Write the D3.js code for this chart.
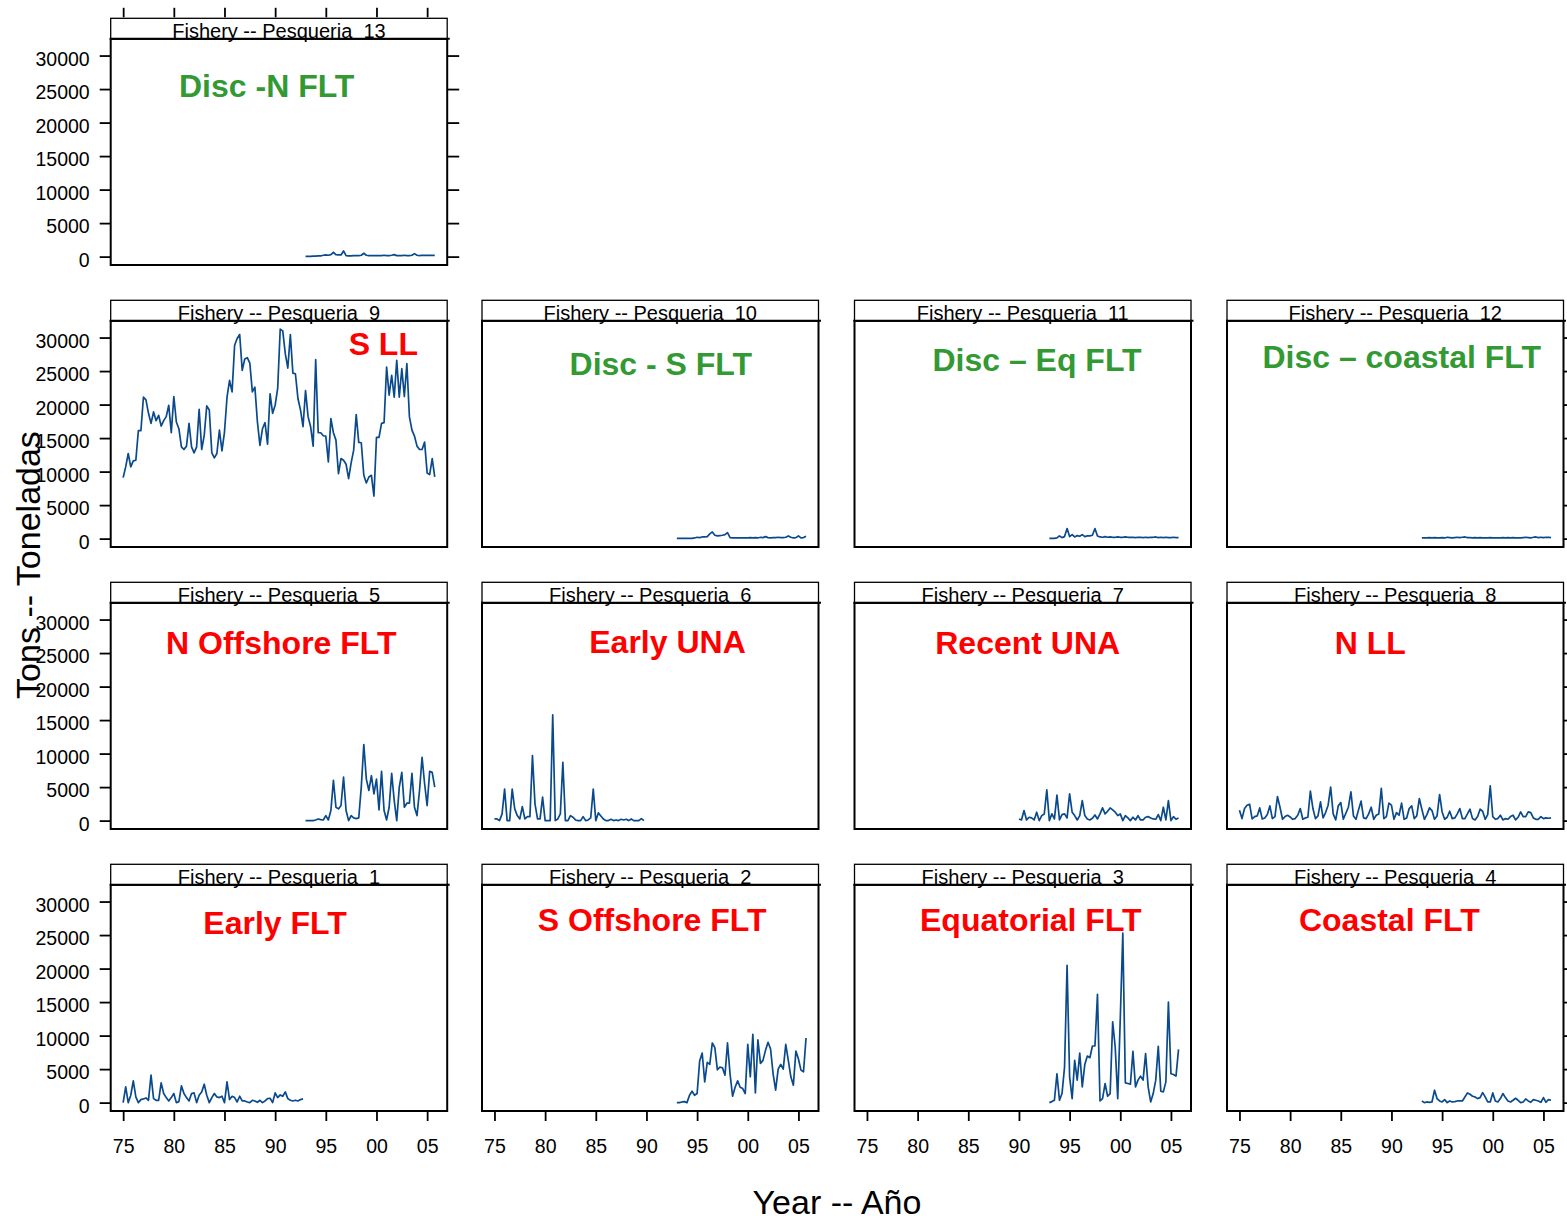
<!DOCTYPE html>
<html>
<head>
<meta charset="utf-8">
<script src="https://cdn.jsdelivr.net/npm/d3@7"></script>
<style>
  body { margin: 0; background: #fff; }
  text { font-family: "Liberation Sans", Arial, sans-serif; }
</style>
</head>
<body>
<script>
const width = 1567;
const height = 1220;

// tick values / labels
const yearTicks = [1975, 1980, 1985, 1990, 1995, 2000, 2005];
const yearLabels = ['75', '80', '85', '90', '95', '00', '05'];
const catchTicks = [0, 5000, 10000, 15000, 20000, 25000, 30000];

// fisheries
const fisheryIds = [1, 2, 3, 4, 5, 6, 7, 8, 9, 10, 11, 12, 13];
const fisheryNames = ['Early FLT', 'S Offshore FLT', 'Equatorial FLT', 'Coastal FLT',
  'N Offshore FLT', 'Early UNA', 'Recent UNA', 'N LL', 'S LL',
  'Disc - S FLT', 'Disc \u2013 Eq FLT', 'Disc \u2013 coastal FLT', 'Disc -N FLT'];
const nameGroups = ['ret', 'ret', 'ret', 'ret', 'ret', 'ret', 'ret', 'ret', 'ret',
  'disc', 'disc', 'disc', 'disc'];
const firstYears = [1975, 1993, 1993, 1993, 1993, 1975, 1990, 1975, 1975, 1993, 1993, 1993, 1993];

// quarterly catches (t)
const catchF1 = [0, 2350, 0, 1100, 3250, 850, 0, 450, 550, 700, 350, 4100, 600, 350, 350, 2950, 1350, 750, 250, 750,
  1350, 0, 150, 2500, 1350, 750, 250, 1350, 1450, 0, 1100, 1600, 2750, 1100, 0, 750, 1350, 850, 750, 950,
  0, 3100, 450, 950, 750, 100, 950, 250, 250, 100, 0, 350, 250, 50, 350, 0, 250, 600, 650, 0,
  1450, 750, 1150, 950, 1600, 600, 350, 250, 350, 250, 450, 550];
const catchF2 = [0, 0, 100, 150, 0, 1100, 1700, 1100, 1350, 6200, 7400, 3100, 6000, 5700, 8900, 8200, 4900, 5300, 5200, 4100,
  8900, 4300, 950, 2300, 3250, 2300, 2100, 1350, 8700, 3850, 10200, 1450, 9350, 5850, 6300, 7800, 9000, 8000, 4300, 1850,
  5000, 5700, 5000, 8700, 6300, 3850, 2600, 7700, 6500, 4850, 4600, 9650];
const catchF3 = [0, 150, 350, 4300, 350, 1350, 5300, 20500, 3850, 600, 6300, 3350, 7400, 2350, 5700, 6950, 6700, 8450, 8450, 16150,
  250, 600, 2850, 950, 1350, 12050, 8300, 600, 12500, 25300, 2950, 2850, 2750, 7650, 2350, 3350, 3950, 3350, 7300, 2350,
  100, 1350, 3350, 8400, 1700, 1600, 3100, 15000, 4300, 4200, 3950, 7950];
const catchF4 = [250, 0, 100, 50, 100, 1850, 600, 250, 100, 450, 0, 250, 100, 150, 250, 250, 250, 850, 1450, 1250,
  950, 850, 600, 750, 1500, 850, 100, 100, 1450, 250, 100, 600, 1350, 750, 250, 100, 350, 650, 350, 0,
  100, 550, 250, 50, 450, 350, 250, 50, 750, 50, 450, 350];
const catchF5 = [0, 0, 0, 0, 100, 250, 150, 100, 750, 100, 1500, 6000, 2000, 1750, 2250, 6500, 1500, 0, 750, 400,
  300, 400, 5000, 11350, 6200, 4500, 6700, 4000, 6200, 1600, 7350, 1500, 100, 2000, 7050, 3000, 0, 5000, 7200, 2000,
  2600, 2600, 7050, 2000, 750, 4500, 9450, 5500, 2250, 7350, 7200, 5000];
const catchF6 = [250, 250, 0, 1000, 4700, 0, 0, 4700, 1750, 750, 250, 2100, 250, 600, 600, 9700, 2500, 250, 250, 3500,
  0, 0, 0, 15800, 0, 250, 1000, 8700, 0, 0, 750, 500, 100, 0, 0, 600, 0, 100, 400, 4700,
  0, 1150, 700, 250, 0, 0, 200, 0, 100, 0, 200, 100, 200, 0, 250, 0, 0, 0, 300, 0];
const catchF7 = [250, 100, 1500, 100, 500, 400, 100, 1250, 0, 750, 1000, 4600, 0, 1000, 250, 3800, 100, 900, 1000, 400,
  4000, 1250, 750, 100, 750, 3000, 750, 250, 100, 350, 850, 250, 1000, 1900, 1000, 1400, 1900, 1600, 1250, 750,
  1000, 0, 750, 400, 0, 500, 100, 750, 100, 100, 500, 600, 400, 250, 200, 900, 0, 2000, 100, 3000,
  0, 600, 200, 400];
const catchF8 = [1550, 300, 1800, 2300, 2450, 250, 600, 700, 1900, 250, 400, 900, 2200, 300, 600, 3600, 2000, 200, 600, 800,
  550, 200, 300, 800, 1800, 200, 400, 500, 4400, 1800, 300, 700, 2800, 400, 1200, 2300, 5000, 1000, 100, 2200,
  2700, 200, 1100, 2000, 4300, 700, 200, 1600, 2900, 400, 300, 1000, 2000, 200, 800, 1000, 4800, 300, 600, 2600,
  2300, 200, 1200, 800, 2600, 200, 400, 1800, 2200, 300, 700, 3300, 1700, 200, 900, 1900, 1500, 200, 700, 3900,
  1300, 200, 500, 1400, 300, 400, 1000, 1800, 300, 300, 1000, 1700, 300, 100, 600, 1700, 1400, 200, 900, 5200,
  600, 200, 300, 800, 100, 300, 200, 600, 800, 100, 500, 1300, 600, 600, 1300, 1200, 400, 200, 200, 600,
  300, 400, 350, 400];
const catchF9 = [9100, 10700, 12700, 10700, 11600, 11700, 16100, 16100, 21100, 20700, 18700, 17200, 18900, 17600, 18400, 16800, 17600, 18200, 19900, 15800,
  21200, 17400, 16400, 13700, 13300, 13800, 17200, 13700, 12800, 13700, 19300, 13300, 15400, 19800, 19200, 12800, 12050, 12700, 16200, 13100,
  15900, 21100, 23600, 21900, 28850, 29850, 30450, 25100, 26800, 27000, 26200, 21900, 22600, 17400, 13900, 16400, 17300, 14100, 21600, 18700,
  19900, 22400, 31250, 31000, 27600, 25450, 30450, 24700, 24600, 20900, 19200, 16700, 22100, 18200, 16700, 13800, 26700, 15800, 15800, 15350,
  15300, 11450, 17900, 15800, 14700, 9700, 11950, 11700, 11100, 8950, 11300, 13200, 18500, 14350, 14300, 9450, 8300, 9200, 9450, 6350,
  15100, 15100, 17200, 17300, 25600, 21400, 24350, 21100, 26600, 21100, 25350, 21200, 26100, 18200, 16200, 15300, 13800, 13300, 13300, 14400,
  9800, 9550, 11950, 9200];
const catchF10 = [50, 50, 50, 50, 50, 50, 50, 100, 200, 150, 250, 250, 300, 700, 1000, 500, 400, 450, 500, 600,
  900, 150, 100, 100, 100, 100, 100, 100, 100, 150, 100, 150, 100, 200, 150, 300, 150, 100, 150, 150,
  200, 150, 150, 200, 400, 200, 100, 150, 400, 100, 150, 350];
const catchF11 = [50, 50, 50, 100, 400, 150, 300, 1500, 300, 600, 250, 450, 350, 600, 300, 400, 400, 500, 1500, 400,
  250, 200, 300, 200, 250, 200, 200, 250, 200, 200, 250, 200, 200, 200, 150, 200, 200, 150, 200, 150,
  200, 200, 250, 150, 200, 150, 200, 150, 150, 200, 150, 150];
const catchF12 = [100, 100, 100, 150, 100, 150, 100, 100, 150, 100, 200, 150, 100, 150, 200, 150, 200, 250, 150, 150,
  100, 150, 100, 150, 100, 100, 100, 150, 100, 100, 100, 100, 150, 100, 150, 100, 150, 100, 100, 100,
  150, 200, 150, 100, 200, 250, 150, 200, 150, 200, 200, 150];
const catchF13 = [50, 50, 50, 80, 80, 100, 100, 200, 250, 200, 300, 650, 300, 250, 250, 850, 150, 100, 100, 150,
  150, 150, 200, 500, 200, 150, 150, 150, 150, 150, 150, 200, 150, 150, 200, 300, 150, 150, 150, 200,
  150, 150, 200, 450, 200, 150, 200, 200, 200, 200, 200, 200];
const catches = [catchF1, catchF2, catchF3, catchF4, catchF5, catchF6, catchF7,
  catchF8, catchF9, catchF10, catchF11, catchF12, catchF13];

// page layout
const grid = [[13], [9, 10, 11, 12], [5, 6, 7, 8], [1, 2, 3, 4]];
const colLeft = [110.7, 482, 854.5, 1227];
const rowTop = [18.3, 300.3, 582.3, 864.3];
const panelW = 336.5;
const stripH = 20.5;
const plotH = 226.2;
const lineColor = '#0a4a8c';
const nameColor = { ret: '#ff0000', disc: '#339933' };
// where the big fishery name sits in each panel (centre x, baseline from strip top)
const namePos = {
  1: [164.3, 69.7], 2: [170.2, 66.7], 3: [176.3, 66.7], 4: [162.3, 66.7],
  5: [170.6, 71.7], 6: [185.5, 71], 7: [173.2, 71.7], 8: [143.2, 71.7],
  9: [272.6, 54.7], 10: [178.8, 74.2], 11: [182.5, 70.7], 12: [174.7, 68], 13: [156, 78.4]
};

const x = d3.scaleLinear()
  .domain([1975 - 0.04 * 30.75, 2005.75 + 0.04 * 30.75])
  .range([0, panelW]);

const y = d3.scaleLinear()
  .domain([-1250, 32500])
  .range([plotH, 0]);

const line = d3.line()
  .x(d => x(d.t))
  .y(d => y(d.v));

const svg = d3.select('body')
  .append('svg')
    .attr('width', width)
    .attr('height', height)
    .attr('viewBox', [0, 0, width, height].join(' '));

svg.append('rect')
  .attr('width', width)
  .attr('height', height)
  .attr('fill', '#fff');

const styleAxis = (g) => {
  g.select('.domain').remove();
  g.selectAll('.tick line').attr('stroke', '#000').attr('stroke-width', 1.8);
  g.selectAll('.tick text')
    .attr('fill', '#000')
    .style('font-size', '19.5px')
    .style('font-family', '"Liberation Sans", Arial, sans-serif');
};

grid.forEach((row, r) => {
  row.forEach((id, c) => {
    const k = fisheryIds.indexOf(id);
    const left = colLeft[c];
    const top = rowTop[r];

    const panel = svg.append('g')
      .attr('transform', `translate(${left}, ${top + stripH})`);

    // left axis with labels on first column
    if (c === 0) {
      panel.append('g')
        .call(d3.axisLeft(y).tickValues(catchTicks).tickSize(11).tickPadding(10)
          .tickFormat(d3.format('d')))
        .call(styleAxis)
        .call(g => g.selectAll('.tick text').attr('dy', '0.5em'));
    }

    // right ticks on last panel of the row
    if (c === row.length - 1) {
      panel.append('g')
        .attr('transform', `translate(${panelW}, 0)`)
        .call(d3.axisRight(y).tickValues(catchTicks).tickSize(12).tickFormat(''))
        .call(styleAxis);
    }

    // bottom axis for the last row
    if (r === grid.length - 1) {
      panel.append('g')
        .attr('transform', `translate(0, ${plotH + 1})`)
        .call(d3.axisBottom(x).tickValues(yearTicks).tickSize(9).tickPadding(18)
          .tickFormat((d, i) => yearLabels[i]))
        .call(styleAxis);
    }

    // top ticks for the first row
    if (r === 0) {
      svg.append('g')
        .attr('transform', `translate(${left}, ${top - 1})`)
        .call(d3.axisTop(x).tickValues(yearTicks).tickSize(9.5).tickFormat(''))
        .call(styleAxis);
    }

    // data line
    const pts = catches[k].map((v, i) => ({ t: firstYears[k] + i / 4, v: v }));
    panel.append('path')
      .datum(pts)
      .attr('fill', 'none')
      .attr('stroke', lineColor)
      .attr('stroke-width', 1.7)
      .attr('stroke-linejoin', 'round')
      .attr('d', line);

    // panel border
    panel.append('rect')
      .attr('width', panelW)
      .attr('height', plotH)
      .attr('fill', 'none')
      .attr('stroke', '#000')
      .attr('stroke-width', 2);

    // strip
    svg.append('rect')
      .attr('x', left)
      .attr('y', top)
      .attr('width', panelW)
      .attr('height', stripH)
      .attr('fill', '#fff')
      .attr('stroke', '#000')
      .attr('stroke-width', 1.3);

    svg.append('text')
      .attr('x', left + panelW / 2)
      .attr('y', top + stripH - 1)
      .attr('text-anchor', 'middle')
      .style('font-size', '20px')
      .style('white-space', 'pre')
      .text(`Fishery -- Pesqueria  ${id}`);

    svg.append('line')
      .attr('x1', left - 1)
      .attr('x2', left + panelW + 2.5)
      .attr('y1', top + stripH)
      .attr('y2', top + stripH)
      .attr('stroke', '#000')
      .attr('stroke-width', 2);

    // fishery name
    svg.append('text')
      .attr('x', left + namePos[id][0])
      .attr('y', top + namePos[id][1])
      .attr('text-anchor', 'middle')
      .attr('fill', nameColor[nameGroups[k]])
      .style('font-size', '32px')
      .style('font-weight', 'bold')
      .text(fisheryNames[k]);
  });
});

// axis titles
svg.append('text')
  .attr('transform', 'translate(40, 565) rotate(-90)')
  .attr('text-anchor', 'middle')
  .style('font-size', '34px')
  .text('Tons -- Toneladas');

svg.append('text')
  .attr('x', 837)
  .attr('y', 1214)
  .attr('text-anchor', 'middle')
  .style('font-size', '34px')
  .text('Year -- A\u00f1o');
</script>
</body>
</html>
